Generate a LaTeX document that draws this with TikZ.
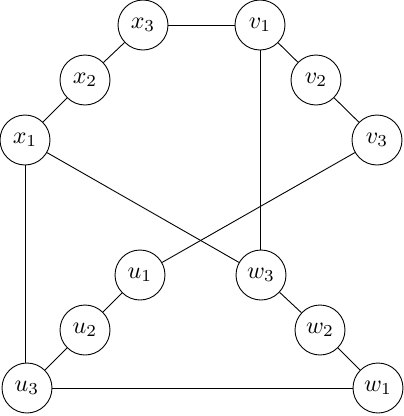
\documentclass[tikz,border=0pt]{standalone}
\newcommand{\lab}[2]{\scalebox{2.4}{$#1_{#2}$}}
\begin{document}
\begin{tikzpicture}[x=1pt,y=-1pt,
  vtx/.style={circle,draw,line width=0.9pt,minimum size=50pt,inner sep=0pt},
  edge/.style={line width=0.9pt}]
\useasboundingbox (0,0) rectangle (404,416);
\node[vtx] (x3) at (143,25) {\lab{x}{3}};
\node[vtx] (v1) at (260,25) {\lab{v}{1}};
\node[vtx] (x2) at (85,80) {\lab{x}{2}};
\node[vtx] (v2) at (316,80) {\lab{v}{2}};
\node[vtx] (x1) at (25,140) {\lab{x}{1}};
\node[vtx] (v3) at (377,140) {\lab{v}{3}};
\node[vtx] (u1) at (140,275) {\lab{u}{1}};
\node[vtx] (w3) at (261,275) {\lab{w}{3}};
\node[vtx] (u2) at (85,330) {\lab{u}{2}};
\node[vtx] (w2) at (320,330) {\lab{w}{2}};
\node[vtx] (u3) at (27,388) {\lab{u}{3}};
\node[vtx] (w1) at (378,388) {\lab{w}{1}};
\draw[edge] (x3) -- (v1);
\draw[edge] (x3) -- (x2);
\draw[edge] (x2) -- (x1);
\draw[edge] (v1) -- (v2);
\draw[edge] (v2) -- (v3);
\draw[edge] (v1.south) -- (v1.south |- w3.north);
\draw[edge] (x1) -- (w3);
\draw[edge] (x1.south) -- (x1.south |- u3.north);
\draw[edge] (v3) -- (u1);
\draw[edge] (u1) -- (u2);
\draw[edge] (u2) -- (u3);
\draw[edge] (w3) -- (w2);
\draw[edge] (w2) -- (w1);
\draw[edge] (u3) -- (w1);
\end{tikzpicture}
\end{document}
